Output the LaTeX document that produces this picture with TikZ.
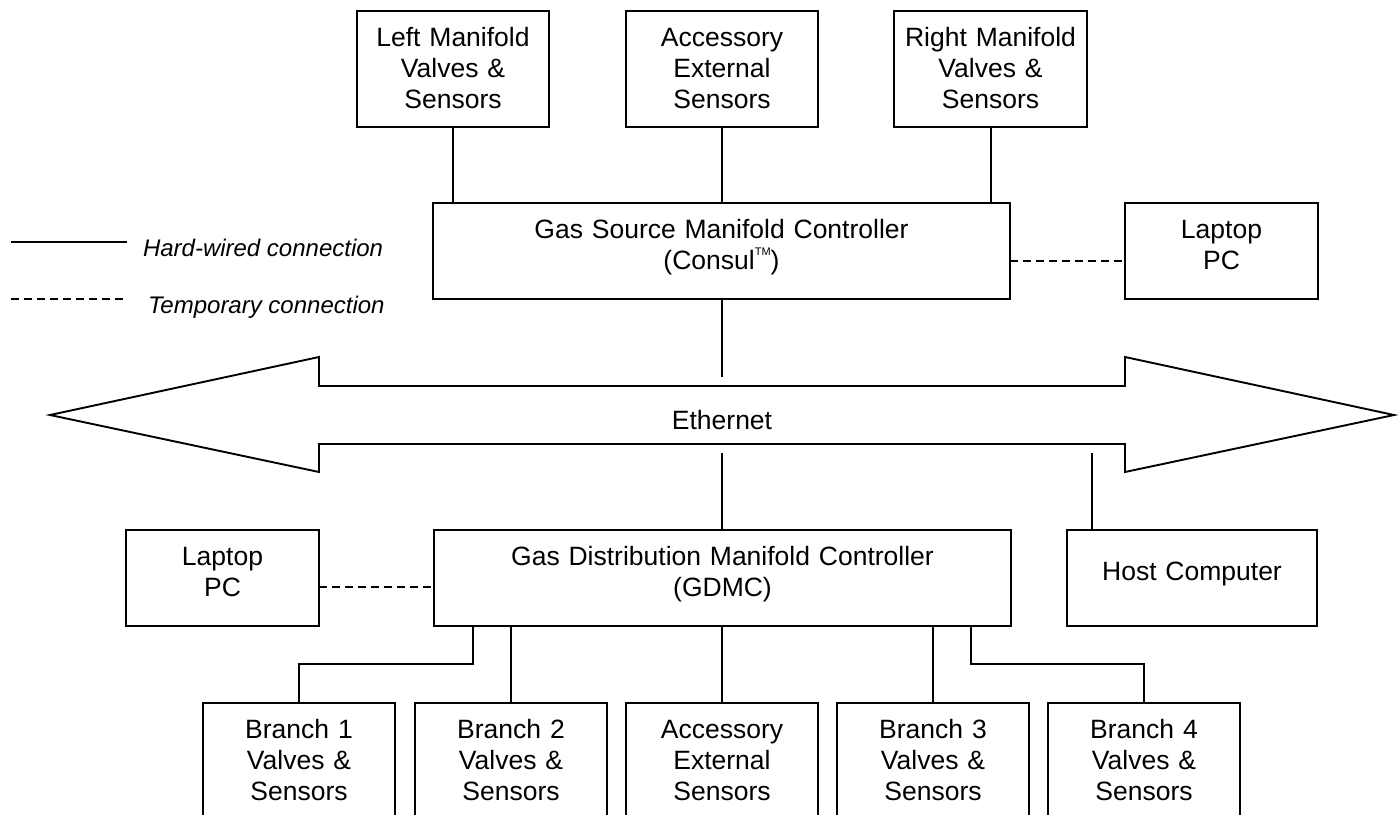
\documentclass[tikz,border=0pt]{standalone}
\usepackage{fontspec}
\setmainfont{Liberation Sans}
\usetikzlibrary{calc}
\begin{document}
\begin{tikzpicture}[x=1pt,y=-1pt,
  box/.style={draw, line width=1.9pt, minimum width=192pt, minimum height=116pt, inner sep=0pt, outer sep=0pt},
  txt/.style={font=\fontsize{26.5}{31}\selectfont, align=center, text width=560pt, inner sep=0pt, outer sep=0pt, anchor=base},
  link/.style={line width=1.6pt},
  temp/.style={line width=1.6pt, dash pattern=on 8pt off 5pt},
  leg/.style={font=\fontsize{24}{28}\selectfont\itshape, inner sep=0pt, outer sep=0pt, anchor=base west}]
\useasboundingbox (0,0) rectangle (1400,814);
\clip (0,0) rectangle (1400,814);

% top row
\node[box] (lmv) at (453,69) {};
\node[box] (acc1) at (722,69) {};
\node[box, minimum width=193pt] (rmv) at (990.5,69) {};
\node[txt] (lmvt) at ([yshift=-35.5pt]lmv.north) {Left Manifold\\Valves \&\\Sensors};
\node[txt] (acc1t) at ([yshift=-35.5pt]acc1.north) {Accessory\\External\\Sensors};
\node[txt] (rmvt) at ([yshift=-35.5pt]rmv.north) {Right Manifold\\Valves \&\\Sensors};

% controllers
\node[box, minimum width=577pt, minimum height=96pt] (gsmc) at (721.5,251) {};
\node[txt] (gsmct) at ([yshift=-35.5pt]gsmc.north) {Gas Source Manifold Controller\\(Consul\raisebox{14pt}{\fontsize{11}{11}\selectfont TM})};
\node[box, minimum width=193pt, minimum height=96pt] (lap1) at (1221.5,251) {};
\node[txt] (lap1t) at ([yshift=-35.5pt]lap1.north) {Laptop\\PC};

\node[box, minimum width=577pt, minimum height=96pt] (gdmc) at (722.5,578) {};
\node[txt] (gdmct) at ([yshift=-35.5pt]gdmc.north) {Gas Distribution Manifold Controller\\(GDMC)};
\node[box, minimum width=193pt, minimum height=96pt] (lap2) at (222.5,578) {};
\node[txt] (lap2t) at ([yshift=-35.5pt]lap2.north) {Laptop\\PC};
\node[box, minimum width=250pt, minimum height=96pt] (host) at (1192,578) {};
\node[txt] (hostt) at ([yshift=-50pt]host.north) {Host Computer};

% bottom row
\node[box, minimum height=130pt] (b1) at (299,768) {};
\node[box, minimum height=130pt] (b2) at (511,768) {};
\node[box, minimum height=130pt] (acc2) at (722,768) {};
\node[box, minimum height=130pt] (b3) at (933,768) {};
\node[box, minimum height=130pt] (b4) at (1144,768) {};
\node[txt] (b1t) at ([yshift=-35.5pt]b1.north) {Branch 1\\Valves \&\\Sensors};
\node[txt] (b2t) at ([yshift=-35.5pt]b2.north) {Branch 2\\Valves \&\\Sensors};
\node[txt] (acc2t) at ([yshift=-35.5pt]acc2.north) {Accessory\\External\\Sensors};
\node[txt] (b3t) at ([yshift=-35.5pt]b3.north) {Branch 3\\Valves \&\\Sensors};
\node[txt] (b4t) at ([yshift=-35.5pt]b4.north) {Branch 4\\Valves \&\\Sensors};

% Ethernet arrow
\draw[line width=1.9pt, line join=miter] (50,415) -- (319,357) -- (319,386) -- (1125,386) -- (1125,357) -- (1394,415) -- (1125,472) -- (1125,444) -- (319,444) -- (319,472) -- cycle;
\node[txt] (eth) at (722,429) {Ethernet};
\coordinate (e1) at (722,377);
\coordinate (e2) at (722,453);
\coordinate (e3) at (1092,453);
\coordinate (r1) at (991,127);

% connectors
\draw[link] (lmv.south) -- (lmv.south |- gsmc.north);
\draw[link] (acc1.south) -- (acc1.south |- gsmc.north);
\draw[link] (r1) -- (r1 |- gsmc.north);
\draw[temp] ([yshift=-10pt]gsmc.east) -- ([yshift=-10pt]gsmc.east -| lap1.west);
\draw[link] (gsmc.south -| e1) -- (e1);
\draw[link] (e2) -- (e2 |- gdmc.north);
\draw[link] (e3) -- (e3 |- host.north);
\draw[temp] ([yshift=-9pt]lap2.east) -- ([yshift=-9pt]lap2.east -| gdmc.west);
\coordinate (k1) at (473,664);
\coordinate (k4) at (971,664);
\draw[link] (gdmc.south -| k1) -- (k1) -| (b1.north);
\draw[link] (b2.north) -- (b2.north |- gdmc.south);
\draw[link] (acc2.north) -- (acc2.north |- gdmc.south);
\draw[link] (b3.north) -- (b3.north |- gdmc.south);
\draw[link] (gdmc.south -| k4) -- (k4) -| (b4.north);

% legend
\coordinate (hw1) at (11,242);
\coordinate (hw2) at (127,242);
\coordinate (tc1) at (11,299);
\coordinate (tc2) at (127,299);
\draw[link] (hw1) -- (hw2);
\draw[temp] (tc1) -- (tc2);
\node[leg] (hwt) at (143,256) {Hard-wired connection};
\node[leg] (tct) at (148,313) {Temporary connection};
\end{tikzpicture}
\end{document}
